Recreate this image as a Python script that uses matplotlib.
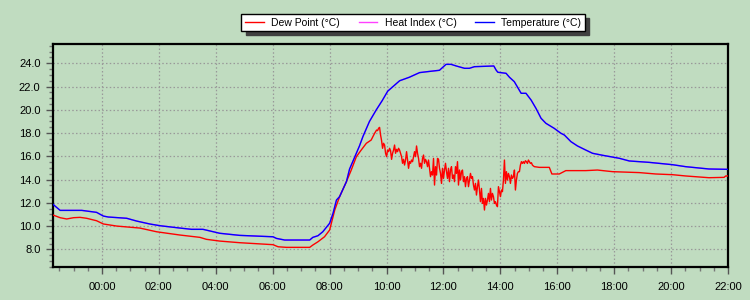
import matplotlib
matplotlib.use("Agg")
import matplotlib.pyplot as plt
from matplotlib.ticker import FixedLocator, MultipleLocator, FormatStrFormatter

# ---- data (hours relative to midnight; negative = previous evening) ----
temp_t = [-1.72, -1.47, -0.71, -0.19, 0.05, 0.22, 0.87, 1.22, 1.68, 2.04, 2.74, 3.15,
          3.55, 4.14, 4.84, 6.01, 6.13, 6.42, 7.30, 7.41, 7.59, 7.76, 8.00, 8.12, 8.24,
          8.35, 8.59, 8.70, 9.05, 9.17, 9.40, 9.64, 9.85, 10.04, 10.46, 10.80, 11.16,
          11.50, 11.86, 12.09, 12.27, 12.45, 12.74, 12.91, 13.09, 13.77, 13.85, 13.91,
          14.20, 14.32, 14.49, 14.73, 14.90, 15.08, 15.25, 15.43, 15.60, 15.89, 16.13,
          16.25, 16.48, 16.71, 17.00, 17.24, 17.59, 18.18, 18.53, 19.23, 20.05, 20.51,
          21.33, 22.00]
temperature = [11.87, 11.35, 11.35, 11.18, 10.86, 10.78, 10.67, 10.43, 10.18, 10.03, 9.83, 9.72,
               9.72, 9.38, 9.20, 9.08, 8.94, 8.80, 8.80, 9.03, 9.17, 9.51, 10.24, 11.10, 12.24,
               12.53, 13.82, 14.90, 16.90, 17.70, 19.00, 20.00, 20.80, 21.60, 22.50, 22.80, 23.20,
               23.30, 23.40, 23.91, 23.91, 23.77, 23.57, 23.57, 23.71, 23.77, 23.42, 23.23,
               23.14, 22.80, 22.42, 21.42, 21.42, 20.84, 20.13, 19.27, 18.84, 18.41, 17.98,
               17.83, 17.26, 16.89, 16.54, 16.26, 16.09, 15.83, 15.60, 15.48, 15.28, 15.11,
               14.91, 14.88]
# heat index equals air temperature below ~27 °C, so it lies under the temperature trace
heat_index = list(temperature)

# dew point: smooth part before 09:35
dew_early_t = [-1.72, -1.47, -1.24, -1.00, -0.77, -0.54, -0.19, 0.05, 0.52, 1.33, 1.92, 2.74,
               3.44, 3.67, 4.14, 4.84, 6.01, 6.19, 6.48, 7.30, 7.41, 7.59, 7.82, 8.00, 8.09,
               8.18, 8.35, 8.59, 8.76, 8.94, 9.11, 9.29, 9.46]
dew_early = [10.95, 10.72, 10.61, 10.72, 10.75, 10.67, 10.46, 10.18, 10.00, 9.83, 9.51, 9.23,
             9.03, 8.86, 8.71, 8.57, 8.40, 8.22, 8.17, 8.17, 8.37, 8.65, 9.08, 9.66, 10.52,
             11.38, 12.53, 13.82, 14.82, 15.97, 16.54, 17.12, 17.40]
# dew point: noisy part, one reading every ~2.1 minutes from 09:35
dew_dense_start_h = 9.58
dew_dense_step_h = 0.0351
dew_dense = [17.98, 18.12, 18.26, 18.21, 18.41, 18.49, 17.83, 17.35, 16.69, 17.12, 16.97,
             16.26, 15.97, 16.54, 16.40, 16.69, 16.48, 15.74, 16.26, 16.54, 16.97, 16.26,
             16.60, 16.40, 16.69, 16.54, 16.26, 15.97, 15.40, 15.74, 15.25, 15.68, 16.40,
             15.68, 14.97, 15.54, 15.40, 15.68, 15.54, 15.97, 16.40, 15.97, 16.89, 16.26,
             15.82, 15.11, 15.40, 14.97, 15.82, 16.11, 15.40, 15.74, 15.54, 15.11, 15.68,
             14.97, 14.25, 14.68, 14.39, 15.82, 13.53, 15.11, 14.39, 15.82, 15.74, 14.97,
             14.54, 13.67, 14.97, 14.10, 14.82, 15.40, 14.68, 14.10, 14.97, 13.82, 14.82,
             15.11, 14.10, 14.39, 13.82,
             15.11, 14.53, 15.54, 13.53, 14.82, 13.96, 14.68, 14.82, 13.82, 14.25, 13.39,
             14.10, 14.25, 13.39, 13.96, 14.53, 14.10, 14.25, 13.53, 13.10, 13.67, 12.67,
             13.39, 13.96, 13.10, 12.10, 13.24, 11.95, 12.38, 11.38, 12.38, 11.81, 12.24,
             12.81, 12.10, 13.24, 12.24, 12.81, 12.53, 11.95, 12.10, 11.81, 11.67, 13.39,
             12.96, 12.53, 13.10, 12.96, 13.96, 15.68, 13.67, 14.68, 13.96, 14.53, 14.25,
             13.67, 14.39, 14.10, 14.25, 14.82, 13.10, 13.96, 14.53, 14.68, 14.68, 15.25,
             15.54, 15.39, 15.54, 15.39, 15.62, 15.54, 15.39, 15.68, 15.54, 15.39, 15.45,
             15.25, 15.17, 15.11]
# dew point: evening part
dew_late_t = [15.37, 15.72, 15.81, 16.07, 16.30, 17.00, 17.41, 17.94, 18.88, 19.46, 20.05,
              20.51, 21.33, 21.86, 21.92, 22.00]
dew_late = [15.05, 15.05, 14.48, 14.48, 14.77, 14.77, 14.82, 14.68, 14.60, 14.48, 14.42,
            14.31, 14.16, 14.19, 14.31, 14.31]

hour_ticks = [0, 2, 4, 6, 8, 10, 12, 14, 16, 18, 20, 22]
hour_labels = ["00:00", "02:00", "04:00", "06:00", "08:00", "10:00", "12:00",
               "14:00", "16:00", "18:00", "20:00", "22:00"]
y_ticks = [8, 10, 12, 14, 16, 18, 20, 22, 24]
series_names = ["Dew Point (°C)", "Heat Index (°C)", "Temperature (°C)"]

dew_dense_t = [dew_dense_start_h + i * dew_dense_step_h for i in range(len(dew_dense))]
dew_t = dew_early_t + dew_dense_t + dew_late_t
dew_point = dew_early + dew_dense + dew_late

# ---- style ----
BG = "#C0DCC0"
plt.rcParams["font.family"] = ["Liberation Sans", "DejaVu Sans"]

fig = plt.figure(figsize=(7.5, 3.0), dpi=100, facecolor=BG)
ax = fig.add_axes([0.0707, 0.11, 0.9, 0.7433], facecolor=BG)

l_dew, = ax.plot(dew_t, dew_point, color="#FF0000", lw=1.0, label=series_names[0], zorder=3)
l_hi, = ax.plot(temp_t, heat_index, color="#FF40FF", lw=1.0, label=series_names[1], zorder=2)
l_tmp, = ax.plot(temp_t, temperature, color="#0000FF", lw=1.0, label=series_names[2], zorder=4)

ax.set_xlim(-1.72, 22.0)
ax.set_ylim(6.48, 25.66)

ax.xaxis.set_major_locator(FixedLocator(hour_ticks))
ax.set_xticklabels(hour_labels)
ax.xaxis.set_minor_locator(MultipleLocator(0.5))
ax.yaxis.set_major_locator(FixedLocator(y_ticks))
ax.yaxis.set_major_formatter(FormatStrFormatter("%.1f"))
ax.yaxis.set_minor_locator(MultipleLocator(0.5))

ax.tick_params(which="major", length=5, width=1, color="#555555", labelsize=8,
               labelcolor="black", pad=4)
ax.tick_params(which="minor", length=3, width=1, color="#777777")
ax.tick_params(axis="x", which="major", pad=6)

ax.grid(True, which="major", color="#999999", linestyle=(0, (1.2, 1.8)), linewidth=0.9)
ax.set_axisbelow(True)

for s in ax.spines.values():
    s.set_color("black")
    s.set_linewidth(1.6)

leg = fig.legend(handles=[l_dew, l_hi, l_tmp], loc="center",
                 bbox_to_anchor=(0.551, 0.925), ncol=3, fontsize=7.5,
                 frameon=True, fancybox=False,
                 shadow={"ox": 3, "oy": -3, "color": "#404040", "alpha": 1},
                 handlelength=1.8, handletextpad=0.7, columnspacing=1.8,
                 borderpad=0.35, borderaxespad=0)
leg.get_frame().set_edgecolor("black")
leg.get_frame().set_facecolor("white")
leg.get_frame().set_linewidth(1.0)
leg.get_frame().set_alpha(1)

fig.savefig("out.png", dpi=100, facecolor=BG)
